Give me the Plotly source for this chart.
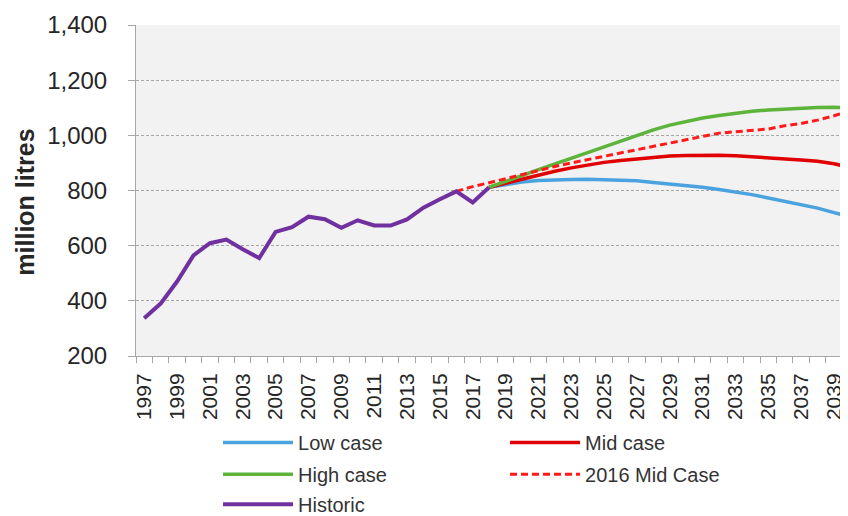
import plotly.graph_objects as go

# historic consumption (million litres)
hist_years = list(range(1997, 2019))
historic = [337, 390, 470, 565, 609, 622, 587, 555, 650, 667, 705,
            696, 665, 692, 673, 673, 695, 738, 768, 797, 757, 812]

# projections from 2018
proj_years = list(range(2018, 2041))
low_case = [812, 822, 831, 836, 839, 840, 841, 840, 839, 835, 829, 824,
            818, 812, 804, 795, 785, 773, 761, 748, 736, 720, 704]
mid_case = [812, 827, 843, 858, 870, 882, 893, 902, 909, 915, 921, 925,
            927, 928, 928, 926, 923, 919, 915, 911, 906, 897, 883]
high_case = [812, 832, 854, 876, 897, 918, 939, 960, 980, 999, 1020, 1037,
             1051, 1063, 1072, 1080, 1087, 1092, 1096, 1099, 1101, 1102, 1100]

# previous (2016) mid case
mid16_years = list(range(2016, 2041))
mid_2016 = [797, 814, 828, 843, 858, 873, 887, 900, 912, 924, 936, 949, 961,
            973, 986, 998, 1008, 1013, 1018, 1023, 1035, 1043, 1055, 1071, 1090]

y_ticks = [200, 400, 600, 800, 1000, 1200, 1400]
x_ticks = list(range(1997, 2040, 2))

FONT = "Liberation Sans, Arial, sans-serif"
GRID = "#a6a6a6"

fig = go.Figure()
fig.add_trace(go.Scatter(x=proj_years, y=low_case, mode="lines", name="Low case",
                         line=dict(color="#4aa3df", width=3.5), legend="legend"))
fig.add_trace(go.Scatter(x=proj_years, y=mid_case, mode="lines", name="Mid case",
                         line=dict(color="#e00000", width=3.5), legend="legend"))
fig.add_trace(go.Scatter(x=proj_years, y=high_case, mode="lines", name="High case",
                         line=dict(color="#5cb43a", width=3.5), legend="legend2"))
fig.add_trace(go.Scatter(x=mid16_years, y=mid_2016, mode="lines", name="2016 Mid Case",
                         line=dict(color="#ff1a1a", width=3, dash="7px,4px"), legend="legend2"))
fig.add_trace(go.Scatter(x=hist_years, y=historic, mode="lines", name="Historic",
                         line=dict(color="#7030a0", width=4), legend="legend3"))

leg = dict(orientation="h", xanchor="left", yanchor="middle", x=0.1152,
           itemwidth=70, entrywidth=202, entrywidthmode="pixels",
           font=dict(family=FONT, size=20, color="#333333"),
           bgcolor="rgba(0,0,0,0)", tracegroupgap=0, itemclick=False)

# page body has an 8px margin, so the figure is 8px smaller than the window
fig.update_layout(
    width=840, height=508,
    margin=dict(l=128, r=0, t=17, b=160, autoexpand=False),
    paper_bgcolor="white", plot_bgcolor="#f2f2f2",
    font=dict(family=FONT, color="#333333"),
    legend=dict(leg, y=-0.261),
    legend2=dict(leg, y=-0.357),
    legend3=dict(leg, y=-0.448),
    annotations=[dict(text="<b>million litres</b>", textangle=-90,
                      xref="paper", yref="paper", x=-0.156, y=0.466,
                      xanchor="center", yanchor="middle", showarrow=False,
                      font=dict(family=FONT, size=25, color="#262626"))],
)

fig.update_xaxes(range=[1996.5, 2039.85], tickvals=x_ticks, tickangle=-90,
                 ticks="outside", ticklen=8, tickcolor="rgba(0,0,0,0)",
                 minor=dict(ticks="outside", ticklen=6, tickcolor=GRID,
                            tick0=1996.5, dtick=1),
                 showgrid=False, zeroline=False, showline=True, linecolor=GRID,
                 automargin=False, ticklabeloverflow="allow",
                 tickfont=dict(family=FONT, size=21, color="#262626"))
fig.update_yaxes(range=[200, 1400], tickvals=y_ticks, tickformat=",",
                 ticks="outside", ticklen=7, tickcolor=GRID,
                 showgrid=True, gridcolor=GRID, griddash="3px,2px", gridwidth=1,
                 zeroline=False, showline=True, linecolor=GRID,
                 ticklabelstandoff=16, automargin=False,
                 tickfont=dict(family=FONT, size=24, color="#262626"))

fig.write_html("out.html")
